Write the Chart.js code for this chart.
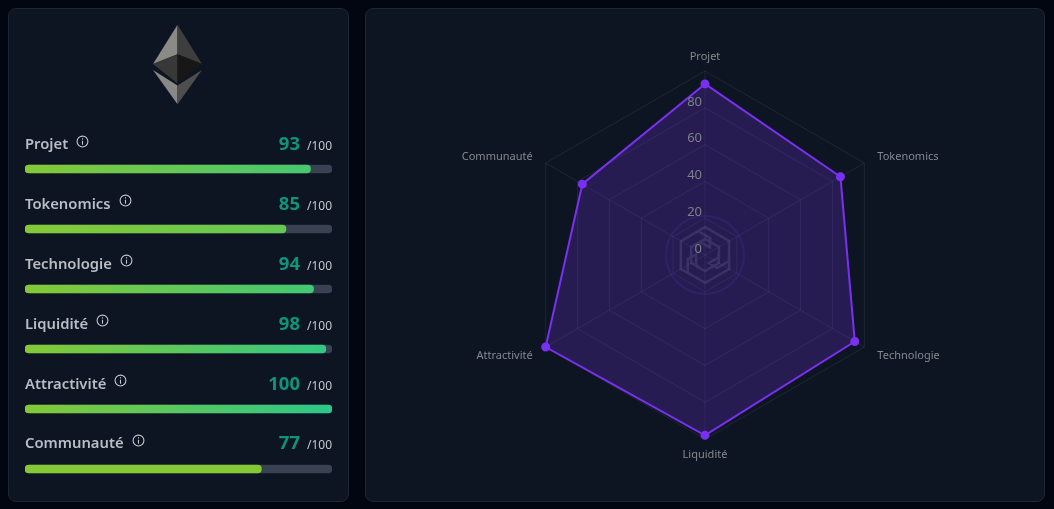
<!DOCTYPE html>
<html lang="fr">
<head>
<meta charset="utf-8">
<title>Score</title>
<script src="https://cdn.jsdelivr.net/npm/chart.js@4"></script>
<style>
    * { box-sizing: border-box; }
    html, body { margin: 0; width: 1054px; height: 509px; overflow: hidden; background: #020611; font-family: "Noto Sans", sans-serif; }
    .panel { position: absolute; top: 8px; height: 494px; background: #0e1522; border: 1px solid #1d2635; border-radius: 8px; }
    #scorePanel { left: 8px; width: 341px; }
    #radarPanel { left: 365px; width: 680px; }
    #ethLogo { position: absolute; left: 144px; top: 15px; width: 49px; height: 81px; }
    #barsBox { position: absolute; left: 16px; top: 130px; width: 307px; height: 360px; }
    #rows { position: absolute; left: 16px; top: 119px; width: 307px; }
    .row { position: relative; height: 59.9px; }
    .name { position: absolute; left: 0; top: 3px; font-size: 14.8px; font-weight: 600; line-height: 24px; color: #b9bdc4; white-space: nowrap; }
    .name svg { position: absolute; top: 3.5px; margin-left: 8px; width: 13px; height: 13px; }
    .score { position: absolute; right: 32px; top: 2px; font-size: 18.5px; font-weight: 700; line-height: 26px; color: #0d957c; }
    .outof { position: absolute; right: 0; top: 8px; font-size: 12px; line-height: 20px; color: #c4c8ce; }
    #watermark { position: absolute; left: 297px; top: 204px; width: 84px; height: 84px; }
    #radarBox { position: absolute; left: 0; top: 0; width: 678px; height: 492px; }
</style>
</head>
<body>
<div class="panel" id="scorePanel">
    <svg id="ethLogo" viewBox="0 0 50 81">
        <polygon points="25,0 0,40 25,30" fill="#8c8a87"/>
        <polygon points="25,0 50,40 25,30" fill="#3e3e3e"/>
        <polygon points="0,40 25,30 25,60" fill="#383838"/>
        <polygon points="50,40 25,30 25,60" fill="#171717"/>
        <polygon points="0,46 25,62 25,81" fill="#8a8886"/>
        <polygon points="50,46 25,62 25,81" fill="#4e4e4e"/>
    </svg>
    <div id="barsBox"><canvas id="barsChart"></canvas></div>
    <div id="rows"></div>
</div>
<div class="panel" id="radarPanel">
    <svg id="watermark" viewBox="-42 -42 84 84" fill="none">
        <defs>
            <polyline id="arm" points="-10,-22 0,-28 24,-14 24,6 12,13 4,8 14,2 14,-8 0,-16 -8,-11"/>
        </defs>
        <circle r="39" stroke="#171d40" stroke-width="2"/>
        <g stroke="#283239" stroke-width="2.5">
            <use href="#arm"/>
            <use href="#arm" transform="rotate(120)"/>
            <use href="#arm" transform="rotate(240)"/>
        </g>
    </svg>
    <div id="radarBox"><canvas id="radarChart"></canvas></div>
</div>
<script>
// Scores
const categories = ['Projet', 'Tokenomics', 'Technologie', 'Liquidité', 'Attractivité', 'Communauté'];
const scores = [93, 85, 94, 98, 100, 77];
const maxScore = 100;
const radarTicks = [0, 20, 40, 60, 80];

const INFO_ICON = `<svg viewBox="0 0 12 12" fill="none" stroke="#c4c8ce">
    <circle cx="6" cy="6" r="5"/><path d="M6 5.4V9M6 3v1.2"/></svg>`;

// Score rows (name, info icon, value)
document.getElementById('rows').innerHTML = categories.map((name, i) => `
    <div class="row">
        <div class="name">${name}${INFO_ICON}</div>
        <div class="score">${scores[i]}</div>
        <div class="outof">/100</div>
    </div>
`).join('');

// Bars get greener the closer the score is to the top
function barFill(ctx) {
    const { chart, dataIndex } = ctx;
    const area = chart.chartArea;
    if (!area) return '#84c935';
    const value = scores[dataIndex];
    const t = Math.max(0, (value - 77) / (maxScore - 77));
    const mix = (a, b) => Math.round(a + (b - a) * t);
    const grad = chart.ctx.createLinearGradient(area.left, 0, chart.scales.x.getPixelForValue(value), 0);
    grad.addColorStop(0, '#84c935');
    grad.addColorStop(1, `rgb(${mix(132, 43)},${mix(201, 199)},${mix(53, 138)})`);
    return grad;
}

new Chart(document.getElementById('barsChart'), {
    type: 'bar',
    data: {
        labels: categories,
        datasets: [
            { data: scores, backgroundColor: barFill, barThickness: 8, borderRadius: 4, borderSkipped: false, grouped: false, order: 1 },
            { data: categories.map(() => maxScore), backgroundColor: '#394252', barThickness: 8, borderRadius: 4, borderSkipped: false, grouped: false, order: 2 }
        ]
    },
    options: {
        indexAxis: 'y',
        responsive: true,
        maintainAspectRatio: false,
        animation: false,
        layout: { padding: 0 },
        plugins: { legend: { display: false }, tooltip: { enabled: false } },
        scales: {
            x: { display: false, min: 0, max: maxScore },
            y: { display: false }
        }
    }
});

// Value labels sit up and left of the vertical spoke, 0 included.
// Category names are pushed straight out from each corner of the web.
const radarLabels = {
    id: 'radarLabels',
    afterDatasetsDraw(chart) {
        const scale = chart.scales.r;
        const ctx = chart.ctx;
        ctx.save();
        ctx.textBaseline = 'middle';

        ctx.font = '13px "Noto Sans"';
        ctx.fillStyle = '#7d8087';
        ctx.textAlign = 'right';
        radarTicks.forEach(tick => {
            const y = scale.yCenter - scale.getDistanceFromCenterForValue(tick);
            ctx.fillText(tick, scale.xCenter - 3, y - 6);
        });

        ctx.font = '11px "Noto Sans"';
        ctx.fillStyle = '#85888f';
        categories.forEach((name, i) => {
            const pos = scale.getPointPosition(i, scale.drawingArea + 15);
            const dx = pos.x - scale.xCenter;
            ctx.textAlign = Math.abs(dx) < 1 ? 'center' : (dx > 0 ? 'left' : 'right');
            ctx.fillText(name, pos.x, pos.y + 1);
        });
        ctx.restore();
    }
};

new Chart(document.getElementById('radarChart'), {
    type: 'radar',
    data: {
        labels: categories,
        datasets: [{
            data: scores,
            borderColor: '#7a30f0',
            borderWidth: 2,
            backgroundColor: 'rgba(112, 50, 225, 0.25)',
            pointBackgroundColor: '#7a30f0',
            pointBorderColor: '#7a30f0',
            pointRadius: 3.5,
            fill: true
        }]
    },
    options: {
        responsive: true,
        maintainAspectRatio: false,
        animation: false,
        layout: { padding: { top: 62, bottom: 62 } },
        plugins: { legend: { display: false }, tooltip: { enabled: false } },
        scales: {
            r: {
                min: 0,
                max: maxScore,
                grid: { color: 'rgba(140, 150, 190, 0.13)' },
                angleLines: { color: 'rgba(140, 150, 190, 0.13)' },
                ticks: { display: false, stepSize: 20 },
                pointLabels: { display: false }
            }
        }
    },
    plugins: [radarLabels]
});
</script>
</body>
</html>
